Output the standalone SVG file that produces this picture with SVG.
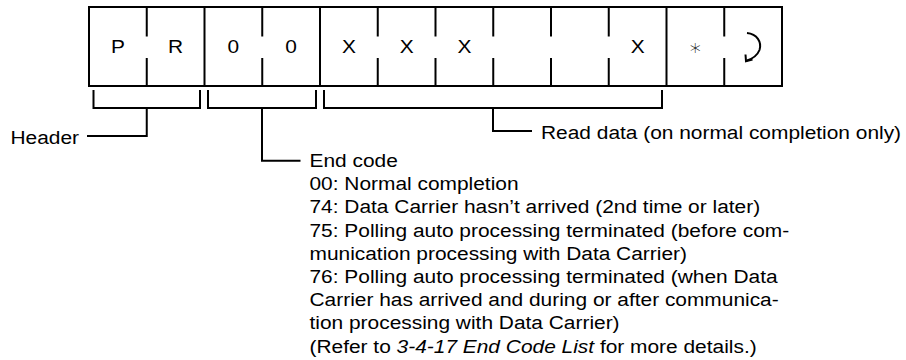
<svg xmlns="http://www.w3.org/2000/svg" width="906" height="360" viewBox="0 0 906 360">
<style>
.ln{stroke:#000;stroke-width:2;fill:none}
.t{font-family:"Liberation Sans",Arial,Helvetica,sans-serif;font-size:19px;fill:#000}
.c{text-anchor:middle}
.e{text-anchor:end}
</style>
<rect width="906" height="360" fill="#fff"/>
<g id="record">
  <rect class="ln" x="89" y="7" width="693" height="79"/>
  <path class="ln" d="M204.5 7V86M320 7V86M666.5 7V86"/>
  <path class="ln" d="M146.75 7V36.5M146.75 58V86M262.25 7V36.5M262.25 58V86M377.75 7V36.5M377.75 58V86M435.5 7V36.5M435.5 58V86M493.25 7V36.5M493.25 58V86M551 7V36.5M551 58V86M608.75 7V36.5M608.75 58V86M724.25 7V36.5M724.25 58V86"/>
  <text class="t c" transform="matrix(1.1 0 0 1 117.9 53)">P</text>
  <text class="t c" transform="matrix(1.1 0 0 1 175.6 53)">R</text>
  <text class="t c" transform="matrix(1.1 0 0 1 233.4 53)">0</text>
  <text class="t c" transform="matrix(1.1 0 0 1 291.1 53)">0</text>
  <text class="t c" transform="matrix(1.1 0 0 1 348.9 53)">X</text>
  <text class="t c" transform="matrix(1.1 0 0 1 406.6 53)">X</text>
  <text class="t c" transform="matrix(1.1 0 0 1 464.4 53)">X</text>
  <text class="t c" transform="matrix(1.1 0 0 1 637.6 53)">X</text>
  <text class="c" x="695.4" y="55" style="font-family:'DejaVu Sans',sans-serif;font-size:22px;font-weight:200">∗</text>
  <path class="ln" stroke-width="2.2" d="M747 33C757 34 762 42 759.5 50C757.5 55 753 58.5 747 60.5"/>
  <path class="ln" stroke-width="2.2" d="M745.5 54.5L746 61.2L752.5 59.5"/>
</g>
<g id="connectors">
  <path class="ln" d="M93.5 90V108H200V90"/>
  <path class="ln" d="M146.75 108V136H87"/>
  <path class="ln" d="M208 90V108H316V90"/>
  <path class="ln" d="M262 108V160.7H300.5"/>
  <path class="ln" d="M324 90V108H662V90"/>
  <path class="ln" d="M493 108V131H532"/>
</g>
<g id="header-label">
  <text class="t e" transform="matrix(1.1 0 0 1 79 143.5)">Header</text>
</g>
<g id="readdata-label">
  <text class="t" transform="matrix(1.1 0 0 1 541 138.5)">Read data (on normal completion only)</text>
</g>
<g id="endcode-label">
  <text class="t" transform="matrix(1.1 0 0 1 309.5 167)">End code</text>
  <text class="t" transform="matrix(1.1 0 0 1 309.5 190.2)">00: Normal completion</text>
  <text class="t" transform="matrix(1.1 0 0 1 309.5 213.4)">74: Data Carrier hasn’t arrived (2nd time or later)</text>
  <text class="t" transform="matrix(1.1 0 0 1 309.5 236.6)">75: Polling auto processing terminated (before com-</text>
  <text class="t" transform="matrix(1.1 0 0 1 309.5 259.8)">munication processing with Data Carrier)</text>
  <text class="t" transform="matrix(1.1 0 0 1 309.5 283)">76: Polling auto processing terminated (when Data</text>
  <text class="t" transform="matrix(1.1 0 0 1 309.5 306.2)">Carrier has arrived and during or after communica-</text>
  <text class="t" transform="matrix(1.1 0 0 1 309.5 329.4)">tion processing with Data Carrier)</text>
  <text class="t" transform="matrix(1.1 0 0 1 309.5 352.6)">(Refer to <tspan font-style="italic">3-4-17 End Code List</tspan> for more details.)</text>
</g>
</svg>
